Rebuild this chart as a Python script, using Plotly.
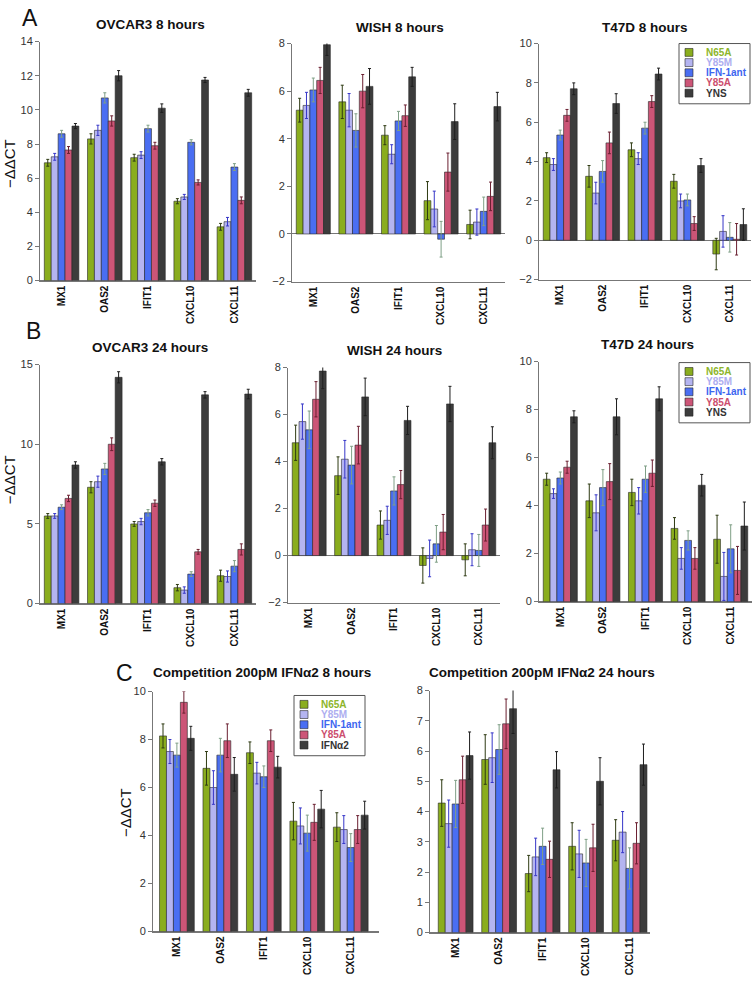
import plotly.graph_objects as go

# === DONNEES ===
genes = ["MX1", "OAS2", "IFIT1", "CXCL10", "CXCL11"]
series_ab = ["N65A", "Y85M", "IFN-1ant", "Y85A", "YNS"]
series_c = ["N65A", "Y85M", "IFN-1ant", "Y85A", "IFNα2"]

# one row per series, one column per gene
ovcar3_8h = [[6.9, 8.3, 7.2, 4.65, 3.15],
             [7.25, 8.8, 7.35, 4.9, 3.45],
             [8.6, 10.7, 8.9, 8.1, 6.65],
             [7.65, 9.35, 7.9, 5.75, 4.7],
             [9.05, 12.0, 10.1, 11.75, 11.0]]
ovcar3_8h_err = [[0.2, 0.3, 0.2, 0.15, 0.2],
                 [0.2, 0.3, 0.2, 0.15, 0.25],
                 [0.2, 0.3, 0.2, 0.15, 0.2],
                 [0.2, 0.3, 0.2, 0.15, 0.2],
                 [0.15, 0.3, 0.25, 0.15, 0.2]]

wish_8h = [[5.2, 5.55, 4.15, 1.4, 0.4],
           [5.4, 5.2, 3.35, 1.05, 0.5],
           [6.05, 4.35, 4.75, -0.22, 0.95],
           [6.45, 6.0, 4.97, 2.6, 1.58],
           [7.95, 6.2, 6.6, 4.72, 5.35]]
wish_8h_err = [[0.5, 0.7, 0.4, 0.8, 0.6],
               [0.55, 0.7, 0.4, 0.75, 0.55],
               [0.5, 0.7, 0.4, 0.75, 0.6],
               [0.55, 0.7, 0.45, 0.8, 0.6],
               [0.45, 0.75, 0.4, 0.75, 0.6]]

t47d_8h = [[4.2, 3.25, 4.6, 3.0, -0.7],
           [3.85, 2.4, 4.15, 2.0, 0.45],
           [5.35, 3.5, 5.7, 2.05, 0.15],
           [6.35, 4.95, 7.05, 0.85, 0.05],
           [7.7, 6.95, 8.45, 3.8, 0.8]]
t47d_8h_err = [[0.25, 0.55, 0.35, 0.35, 0.8],
               [0.3, 0.55, 0.3, 0.35, 0.8],
               [0.25, 0.55, 0.3, 0.3, 0.75],
               [0.3, 0.55, 0.3, 0.35, 0.8],
               [0.3, 0.5, 0.3, 0.35, 0.8]]

ovcar3_24h = [[5.5, 7.3, 5.0, 1.0, 1.75],
              [5.5, 7.65, 5.15, 0.85, 1.7],
              [6.05, 8.45, 5.7, 1.85, 2.35],
              [6.6, 10.0, 6.3, 3.25, 3.4],
              [8.7, 14.2, 8.9, 13.1, 13.15]]
ovcar3_24h_err = [[0.15, 0.35, 0.15, 0.2, 0.35],
                  [0.15, 0.35, 0.2, 0.2, 0.35],
                  [0.15, 0.35, 0.2, 0.15, 0.35],
                  [0.2, 0.4, 0.2, 0.15, 0.35],
                  [0.2, 0.35, 0.2, 0.2, 0.3]]

wish_24h = [[4.8, 3.4, 1.3, -0.42, -0.18],
            [5.7, 4.1, 1.5, -0.12, 0.25],
            [5.35, 3.85, 2.75, 0.5, 0.22],
            [6.65, 4.7, 3.02, 1.0, 1.3],
            [7.85, 6.75, 5.75, 6.45, 4.8]]
wish_24h_err = [[0.75, 0.8, 0.6, 0.75, 0.68],
                [0.75, 0.8, 0.6, 0.78, 0.68],
                [0.8, 0.8, 0.6, 0.78, 0.68],
                [0.75, 0.8, 0.6, 0.75, 0.68],
                [0.75, 0.8, 0.6, 0.75, 0.68]]

t47d_24h = [[5.1, 4.2, 4.55, 3.05, 2.6],
            [4.5, 3.7, 4.2, 1.8, 1.05],
            [5.15, 4.75, 5.1, 2.55, 2.2],
            [5.6, 5.0, 5.35, 1.8, 1.3],
            [7.7, 7.7, 8.45, 4.85, 3.15]]
t47d_24h_err = [[0.25, 0.7, 0.55, 0.45, 1.0],
                [0.2, 0.75, 0.55, 0.45, 1.0],
                [0.25, 0.75, 0.55, 0.4, 1.0],
                [0.25, 0.75, 0.55, 0.45, 1.0],
                [0.25, 0.75, 0.5, 0.45, 1.0]]

comp_8h = [[8.15, 6.8, 7.45, 4.6, 4.35],
           [7.5, 6.0, 6.6, 4.4, 4.25],
           [7.35, 7.35, 6.45, 4.1, 3.5],
           [9.55, 7.95, 7.95, 4.55, 4.25],
           [8.05, 6.55, 6.85, 5.1, 4.85]]
comp_8h_err = [[0.5, 0.7, 0.45, 0.78, 0.6],
               [0.5, 0.7, 0.45, 0.75, 0.58],
               [0.5, 0.7, 0.45, 0.75, 0.58],
               [0.45, 0.7, 0.45, 0.75, 0.58],
               [0.5, 0.7, 0.45, 0.78, 0.58]]

comp_24h = [[4.28, 5.72, 1.95, 2.85, 3.05],
            [3.6, 5.78, 2.5, 2.6, 3.32],
            [4.25, 6.05, 2.85, 2.3, 2.12],
            [5.05, 6.9, 2.42, 2.8, 2.95],
            [5.85, 7.4, 5.38, 5.0, 5.55]]
comp_24h_err = [[0.77, 0.82, 0.6, 0.78, 0.68],
                [0.78, 0.82, 0.62, 0.78, 0.68],
                [0.78, 0.82, 0.6, 0.78, 0.68],
                [0.78, 0.82, 0.6, 0.78, 0.68],
                [0.78, 0.82, 0.6, 0.78, 0.68]]

# === STYLE ===
W, H = 756, 982
FONT = "Liberation Sans, Arial, sans-serif"
bar_colors = ["#8aad1e", "#b4b4f0", "#4a6ef2", "#cc5577", "#3c3c3c"]
err_colors = ["#2e3a12", "#3636c8", "#7f9f86", "#6a1f30", "#1e1e1e"]
text_colors = ["#8db52b", "#aeaef0", "#3d66f0", "#cc4e6e", "#333333"]
AXIS = "#777777"


def px_x(x):
    return x / W


def px_y(y):
    return 1 - y / H


# panel geometry in pixels: x0, x1, y_top, y_bottom, y range, dtick, x range
panels = [
    dict(title="OVCAR3 8 hours", data=ovcar3_8h, err=ovcar3_8h_err, names=series_ab,
         x0=40, x1=256, yt=36, yb=278, yr=[0, 14], dt=2, xr=[-0.5, 4.5], tx=150, ty=19, legend=None),
    dict(title="WISH 8 hours", data=wish_8h, err=wish_8h_err, names=series_ab,
         x0=292, x1=505, yt=38, yb=279, yr=[-2, 8], dt=2, xr=[-0.5, 4.5], tx=400, ty=22, legend=None),
    dict(title="T47D 8 hours", data=t47d_8h, err=t47d_8h_err, names=series_ab,
         x0=539, x1=751, yt=38, yb=277, yr=[-2, 10], dt=2, xr=[-0.5, 4.5], tx=645, ty=22, legend=(679, 38)),
    dict(title="OVCAR3 24 hours", data=ovcar3_24h, err=ovcar3_24h_err, names=series_ab,
         x0=40, x1=256, yt=363, yb=605, yr=[0, 15], dt=5, xr=[-0.5, 4.5], tx=150, ty=346, legend=None),
    dict(title="WISH 24 hours", data=wish_24h, err=wish_24h_err, names=series_ab,
         x0=288, x1=500, yt=366, yb=604, yr=[-2, 8], dt=2, xr=[-0.5, 4.5], tx=394, ty=349, legend=None),
    dict(title="T47D 24 hours", data=t47d_24h, err=t47d_24h_err, names=series_ab,
         x0=539, x1=752, yt=360, yb=603, yr=[0, 10], dt=2, xr=[-0.5, 4.5], tx=647, ty=343, legend=(679, 361)),
    dict(title="Competition 200pM IFNα2 8 hours", data=comp_8h, err=comp_8h_err, names=series_c,
         x0=153, x1=379, yt=694, yb=937, yr=[0, 10], dt=2, xr=[-0.55, 4.65], tx=262, ty=675, legend=(294, 698)),
    dict(title="Competition 200pM IFNα2 24 hours", data=comp_24h, err=comp_24h_err, names=series_c,
         x0=430, x1=650, yt=693, yb=938, yr=[0, 8], dt=1, xr=[-0.59, 4.47], tx=542, ty=675, legend=None),
]

fig = go.Figure()
annotations = []
shapes = []

for p_i, p in enumerate(panels):
    n = "" if p_i == 0 else str(p_i + 1)
    for s_i, name in enumerate(p["names"]):
        fig.add_trace(go.Bar(
            x=genes, y=p["data"][s_i], name=name,
            xaxis="x" + n, yaxis="y" + n, showlegend=False,
            offsetgroup=str(s_i),
            marker=dict(color=bar_colors[s_i], line=dict(color="#262626", width=0.6)),
            error_y=dict(type="data", array=p["err"][s_i], color=err_colors[s_i],
                         thickness=1, width=1.5),
        ))
    fig.update_layout({
        "xaxis" + n: dict(domain=[px_x(p["x0"]), px_x(p["x1"])], anchor="y" + n,
                          range=p["xr"], showline=True, linecolor=AXIS, linewidth=1,
                          ticks="", tickangle=-90, showgrid=False, zeroline=False,
                          tickfont=dict(family=FONT, size=10, color="#111111", weight="bold"),
                          categoryorder="array", categoryarray=genes),
        "yaxis" + n: dict(domain=[px_y(p["yb"]), px_y(p["yt"])], anchor="x" + n,
                          range=p["yr"], dtick=p["dt"], tick0=0, showline=True,
                          linecolor=AXIS, linewidth=1, ticks="outside", ticklen=4,
                          tickcolor=AXIS, showgrid=False, zeroline=True,
                          zerolinecolor=AXIS, zerolinewidth=1,
                          tickfont=dict(family=FONT, size=11, color="#333333")),
    })
    annotations.append(dict(text="<b>" + p["title"] + "</b>", x=px_x(p["tx"]), y=px_y(p["ty"]),
                            xref="paper", yref="paper", showarrow=False,
                            xanchor="center", yanchor="middle",
                            font=dict(family=FONT, size=13.5, color="#111111")))

    # legend box drawn next to the panel
    if p["legend"] is not None:
        lx, ly = p["legend"]
        shapes.append(dict(type="rect", xref="paper", yref="paper",
                           x0=px_x(lx), x1=px_x(lx + 71), y0=px_y(ly + 61), y1=px_y(ly),
                           line=dict(color="#555555", width=1), fillcolor="white"))
        for s_i, name in enumerate(p["names"]):
            cy = ly + 9 + 10.3 * s_i
            shapes.append(dict(type="rect", xref="paper", yref="paper",
                               x0=px_x(lx + 6), x1=px_x(lx + 14), y0=px_y(cy + 4), y1=px_y(cy - 4),
                               line=dict(color="#262626", width=0.6), fillcolor=bar_colors[s_i]))
            annotations.append(dict(text="<b>" + name + "</b>", x=px_x(lx + 25), y=px_y(cy),
                                    xref="paper", yref="paper", showarrow=False,
                                    xanchor="left", yanchor="middle",
                                    font=dict(family=FONT, size=10, color=text_colors[s_i])))

# axis labels and panel letters
for lbl_x, lbl_y in [(9, 160), (9, 480), (125, 817)]:
    annotations.append(dict(text="−ΔΔCT", x=px_x(lbl_x), y=px_y(lbl_y), xref="paper", yref="paper",
                            showarrow=False, textangle=-90, xanchor="center", yanchor="middle",
                            font=dict(family=FONT, size=15, color="#111111")))
for letter, lx, ly in [("A", 30, 12), ("B", 33, 329), ("C", 124, 675)]:
    annotations.append(dict(text=letter, x=px_x(lx), y=px_y(ly), xref="paper", yref="paper",
                            showarrow=False, xanchor="center", yanchor="middle",
                            font=dict(family=FONT, size=23, color="#111111")))

fig.update_layout(
    width=W, height=H,
    margin=dict(l=0, r=0, t=0, b=0),
    paper_bgcolor="white", plot_bgcolor="white",
    barmode="group", bargap=0.2, bargroupgap=0,
    showlegend=False,
    annotations=annotations, shapes=shapes,
)

# page without body margin so the figure fills the window exactly
fig.write_html("out.html", config={"displayModeBar": False},
               post_script="document.body.style.margin='0';document.body.style.overflow='hidden';")
